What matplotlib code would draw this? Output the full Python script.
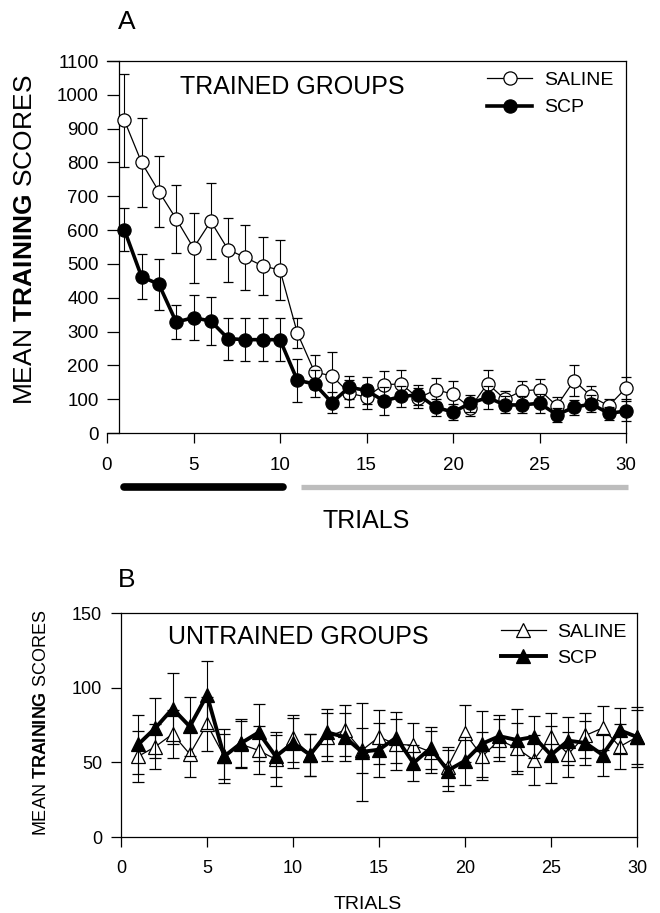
import matplotlib
matplotlib.use("Agg")
import matplotlib.pyplot as plt
import matplotlib.transforms as mtransforms
import numpy as np

plt.rcParams['font.family'] = ['Liberation Sans', 'DejaVu Sans']
plt.rcParams['mathtext.fontset'] = 'custom'
plt.rcParams['mathtext.rm'] = 'Liberation Sans'
plt.rcParams['mathtext.bf'] = 'Liberation Sans:bold'

# ---------------- data ----------------
trials = list(range(1, 31))

a_saline = [925, 800, 714, 633, 547, 626, 542, 519, 494, 482, 296, 180, 169, 118, 106,
            143, 145, 103, 128, 115, 75, 146, 100, 125, 128, 80, 155, 108, 80, 133]
a_saline_err = [138, 132, 105, 100, 103, 112, 95, 97, 87, 89, 45, 50, 70, 40, 35,
                40, 40, 30, 36, 40, 25, 41, 25, 28, 33, 25, 45, 32, 22, 33]
a_scp = [601, 462, 440, 328, 341, 331, 279, 276, 276, 276, 156, 145, 90, 135, 126,
         95, 108, 113, 76, 62, 88, 105, 83, 83, 88, 54, 76, 86, 58, 65]
a_scp_err = [63, 66, 75, 50, 67, 72, 62, 64, 64, 64, 63, 40, 30, 34, 40,
             41, 30, 30, 25, 25, 25, 35, 25, 25, 28, 20, 22, 25, 20, 30]

b_saline = [54, 60.5, 69, 55.5, 75.5, 54, 62, 58, 52, 66, 55, 67, 71.5, 58, 67,
            62, 61.5, 57, 47, 69.5, 54, 65, 59.5, 51.5, 67, 55.5, 68, 73, 60.5, 67]
b_saline_err = [17, 15, 16, 15, 18, 15, 16, 16, 18, 16, 14, 16, 17, 15, 18,
                17, 15, 14, 13, 19, 16, 14, 17, 17, 16, 15, 15, 15, 15, 18]
b_scp = [62, 73, 86, 74, 95, 54, 63, 70, 54, 63, 55, 70, 67, 57, 58.5,
         66.5, 49.5, 59.5, 44.5, 51, 62.5, 67.5, 65, 67, 55, 64.5, 63, 55, 71.5, 67]
b_scp_err = [20, 20, 24, 20, 23, 18, 16, 19, 14, 17, 14, 16, 16, 33, 18,
             17, 12, 14, 14, 16, 22, 14, 21, 14, 19, 16, 15, 14, 15, 20]

a_yticks = list(range(0, 1101, 100))
b_yticks = [0, 50, 100, 150]
xticks = [0, 5, 10, 15, 20, 25, 30]

phase_trained = [1, 10.2]     # black bar under panel A
phase_test = [11.2, 30.1]     # grey bar under panel A

W, H = 660, 913
fig = plt.figure(figsize=(W / 100, H / 100), dpi=100)

# ---------------- panel A ----------------
axA = fig.add_axes([107 / W, 1 - 433 / H, 519 / W, 372 / H])
axA.set_xlim(0, 30)
axA.set_ylim(0, 1100)
axA.spines['left'].set_position(('data', 0.7))
for s in axA.spines.values():
    s.set_linewidth(0.9)
axA.set_yticks(a_yticks)
axA.set_xticks(xticks)
axA.tick_params(axis='y', direction='out', length=8.5, width=0.9, pad=6, labelsize=13.5)
axA.tick_params(axis='x', direction='out', length=7, width=0.9, pad=10, labelsize=13.5)

axA.errorbar(trials, a_saline, yerr=a_saline_err, fmt='-', color='black', lw=0.9,
             elinewidth=0.8, capsize=3.6, capthick=0.8, marker='o', ms=9.5,
             mfc='white', mec='black', mew=0.9, label='SALINE', zorder=3, clip_on=False)
axA.errorbar(trials, a_scp, yerr=a_scp_err, fmt='-', color='black', lw=2.6,
             elinewidth=0.8, capsize=3.6, capthick=0.8, marker='o', ms=9.5,
             mfc='black', mec='black', mew=0.9, label='SCP', zorder=4, clip_on=False)

handles, labels = axA.get_legend_handles_labels()
hs = [h[0] for h in handles]
axA.legend(hs, labels, loc='upper right', bbox_to_anchor=(0.975, 0.972), frameon=False,
           fontsize=14, handlelength=2.3, handletextpad=0.6, labelspacing=0.5,
           borderpad=0, borderaxespad=0)

axA.text(0.141, 0.93, 'TRAINED GROUPS', transform=axA.transAxes, fontsize=18,
         ha='left', va='center')

trans = mtransforms.blended_transform_factory(axA.transData, axA.transAxes)
axA.plot(phase_trained, [-0.145, -0.145], transform=trans, color='black', lw=5.5,
         solid_capstyle='round', clip_on=False)
axA.plot(phase_test, [-0.145, -0.145], transform=trans, color='#bdbdbd', lw=3.8,
         solid_capstyle='butt', clip_on=False)

fig.text(25 / W, 1 - 240 / H, r'MEAN $\mathbf{TRAINING}$ SCORES', rotation=90,
         fontsize=19, ha='center', va='center')
fig.text(366 / W, 1 - 521 / H, 'TRIALS', fontsize=18, ha='center', va='center')
fig.text(127 / W, 1 - 22 / H, 'A', fontsize=19, ha='center', va='center')

# ---------------- panel B ----------------
axB = fig.add_axes([121 / W, 1 - 837 / H, 516 / W, 224 / H])
axB.set_xlim(0, 30)
axB.set_ylim(0, 150)
for s in axB.spines.values():
    s.set_linewidth(0.9)
axB.set_yticks(b_yticks)
axB.set_xticks(xticks)
axB.tick_params(axis='y', direction='out', length=7.5, width=0.9, pad=6, labelsize=13)
axB.tick_params(axis='x', direction='out', length=7.5, width=0.9, pad=9, labelsize=13)

axB.errorbar(trials, b_saline, yerr=b_saline_err, fmt='-', color='black', lw=0.9,
             elinewidth=0.8, capsize=4.2, capthick=0.8, marker='^', ms=9.5,
             mfc='white', mec='black', mew=0.9, label='SALINE', zorder=3, clip_on=False)
axB.errorbar(trials, b_scp, yerr=b_scp_err, fmt='-', color='black', lw=2.8,
             elinewidth=0.8, capsize=4.2, capthick=0.8, marker='^', ms=9.5,
             mfc='black', mec='black', mew=0.9, label='SCP', zorder=4, clip_on=False)

handles, labels = axB.get_legend_handles_labels()
hs = [h[0] for h in handles]
axB.legend(hs, labels, loc='upper right', bbox_to_anchor=(0.98, 0.955), frameon=False,
           fontsize=14, handlelength=2.3, handletextpad=0.6, labelspacing=0.45,
           borderpad=0, borderaxespad=0)

axB.text(0.091, 0.895, 'UNTRAINED GROUPS', transform=axB.transAxes, fontsize=18,
         ha='left', va='center')

fig.text(42 / W, 1 - 723 / H, r'MEAN $\mathbf{TRAINING}$ SCORES', rotation=90,
         fontsize=13, ha='center', va='center')
fig.text(368 / W, 1 - 904 / H, 'TRIALS', fontsize=14, ha='center', va='center')
fig.text(127 / W, 1 - 580 / H, 'B', fontsize=19, ha='center', va='center')

fig.savefig('out.png', dpi=100)
